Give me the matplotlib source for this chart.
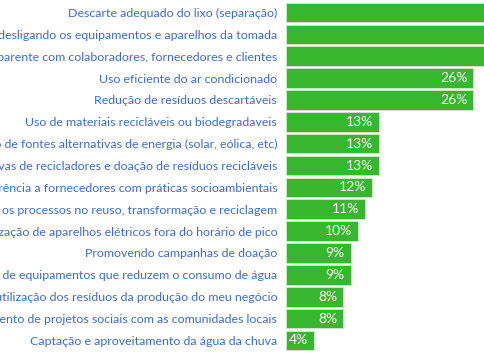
import numpy as np
import matplotlib
matplotlib.use("Agg")
import matplotlib.pyplot as plt

plt.rcParams["font.family"] = ["Lato", "DejaVu Sans"]

# categories, top to bottom
acoes = [
    "Descarte adequado do lixo (separação)",
    "Economia de energia desligando os equipamentos e aparelhos da tomada",
    "Comunicação transparente com colaboradores, fornecedores e clientes",
    "Uso eficiente do ar condicionado",
    "Redução de resíduos descartáveis",
    "Uso de materiais recicláveis ou biodegradaveis",
    "Utilização de fontes alternativas de energia (solar, eólica, etc)",
    "Apoio a cooperativas de recicladores e doação de resíduos recicláveis",
    "Preferência a fornecedores com práticas socioambientais",
    "Adequa os processos no reuso, transformação e reciclagem",
    "Utilização de aparelhos elétricos fora do horário de pico",
    "Promovendo campanhas de doação",
    "Uso de equipamentos que reduzem o consumo de água",
    "Reutilização dos resíduos da produção do meu negócio",
    "Desenvolvimento de projetos sociais com as comunidades locais",
    "Captação e aproveitamento da água da chuva",
]
# top three run off the picture, so their values are guesses
percentuais = [42, 38, 35, 26, 26, 13, 13, 13, 12, 11, 10, 9, 9, 8, 8, 4]

verde = "#37b72f"
azul = "#3d6ccc"

fig = plt.figure(figsize=(4.85, 3.6), dpi=100)
ax = fig.add_axes([0.5887, 0.024, 0.42, 0.9717])

y = np.arange(len(acoes))
ax.barh(y, percentuais, height=0.9, color=verde, edgecolor="#cfeccb", linewidth=0.6)
ax.set_ylim(len(acoes) - 0.5, -0.5)
ax.set_xlim(0, 27.6 * 0.42 / (1 - 0.5887))

for yi, v in zip(y, percentuais):
    ax.text(v - 0.85, yi, f"{v}%", color="white", fontsize=10,
            ha="right", va="center")

ax.set_yticks(y)
ax.set_yticklabels(acoes, color=azul, fontsize=8.9)
ax.tick_params(axis="y", length=0, pad=6)
ax.set_xticks([])
for s in ax.spines.values():
    s.set_visible(False)

fig.savefig("out.png", dpi=100)
